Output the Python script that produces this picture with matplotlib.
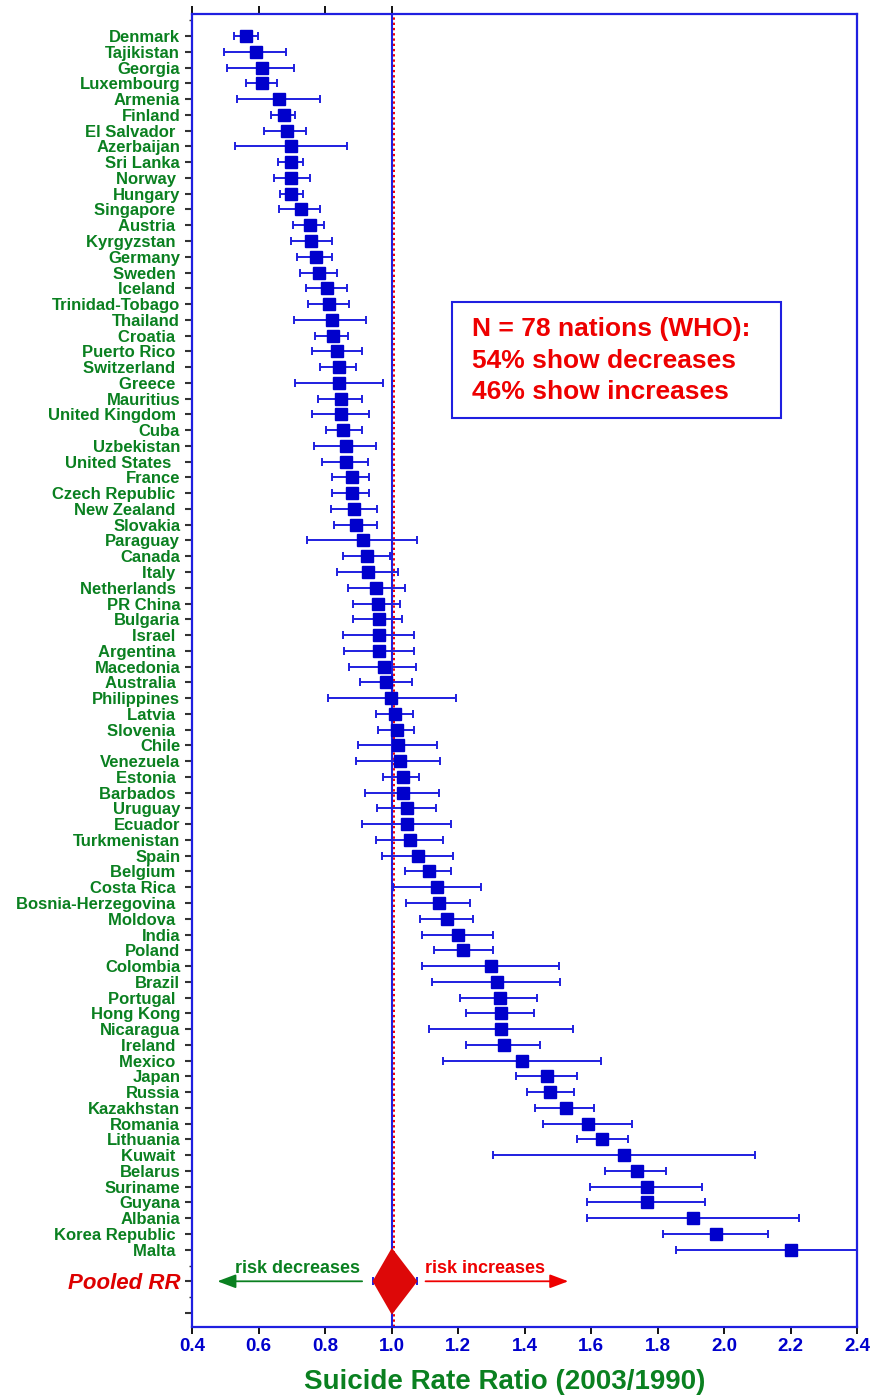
import numpy as np
import matplotlib
matplotlib.use('Agg')
import matplotlib.pyplot as plt
from matplotlib.patches import Polygon, Rectangle, FancyArrowPatch

plt.rcParams['font.family'] = ['Liberation Sans', 'DejaVu Sans']
plt.rcParams['font.weight'] = 'bold'

# Suicide rate ratio 2003/1990 per country, with 95% CI
countries = ['Denmark', 'Tajikistan', 'Georgia', 'Luxembourg', 'Armenia', 'Finland',
             'El Salvador ', 'Azerbaijan', 'Sri Lanka', 'Norway ', 'Hungary', 'Singapore ',
             'Austria ', 'Kyrgyzstan ', 'Germany', 'Sweden ', 'Iceland ', 'Trinidad-Tobago',
             'Thailand', 'Croatia ', 'Puerto Rico ', 'Switzerland ', 'Greece ', 'Mauritius',
             'United Kingdom ', 'Cuba', 'Uzbekistan', 'United States  ', 'France', 'Czech Republic ',
             'New Zealand ', 'Slovakia', 'Paraguay', 'Canada', 'Italy ', 'Netherlands ',
             'PR China', 'Bulgaria', 'Israel ', 'Argentina ', 'Macedonia', 'Australia ',
             'Philippines', 'Latvia ', 'Slovenia ', 'Chile', 'Venezuela', 'Estonia ',
             'Barbados ', 'Uruguay', 'Ecuador', 'Turkmenistan', 'Spain', 'Belgium ',
             'Costa Rica ', 'Bosnia-Herzegovina ', 'Moldova ', 'India', 'Poland', 'Colombia',
             'Brazil', 'Portugal ', 'Hong Kong', 'Nicaragua', 'Ireland ', 'Mexico ',
             'Japan', 'Russia', 'Kazakhstan', 'Romania', 'Lithuania', 'Kuwait ',
             'Belarus', 'Suriname', 'Guyana', 'Albania', 'Korea Republic ', 'Malta ']

rr = [0.563, 0.591, 0.610, 0.610, 0.661, 0.676, 0.685, 0.699, 0.699, 0.699, 0.699, 0.727,
      0.754, 0.759, 0.772, 0.782, 0.805, 0.813, 0.820, 0.823, 0.837, 0.842, 0.842, 0.847,
      0.847, 0.855, 0.862, 0.862, 0.880, 0.880, 0.888, 0.893, 0.915, 0.925, 0.930, 0.953,
      0.958, 0.963, 0.963, 0.963, 0.977, 0.982, 0.997, 1.010, 1.016, 1.021, 1.026, 1.034,
      1.034, 1.046, 1.046, 1.056, 1.079, 1.112, 1.138, 1.144, 1.166, 1.199, 1.216, 1.300,
      1.316, 1.325, 1.328, 1.328, 1.338, 1.393, 1.469, 1.476, 1.524, 1.592, 1.634, 1.699,
      1.738, 1.768, 1.768, 1.907, 1.977, 2.200]

ci_low = [0.525, 0.497, 0.506, 0.562, 0.534, 0.637, 0.618, 0.529, 0.660, 0.647, 0.665, 0.663,
          0.705, 0.697, 0.715, 0.725, 0.743, 0.748, 0.706, 0.770, 0.760, 0.785, 0.710, 0.780,
          0.760, 0.803, 0.767, 0.790, 0.822, 0.822, 0.817, 0.827, 0.747, 0.853, 0.835, 0.868,
          0.885, 0.885, 0.853, 0.858, 0.872, 0.905, 0.810, 0.952, 0.960, 0.900, 0.892, 0.973,
          0.920, 0.955, 0.910, 0.952, 0.970, 1.041, 1.005, 1.045, 1.086, 1.091, 1.129, 1.091,
          1.123, 1.206, 1.224, 1.114, 1.224, 1.154, 1.374, 1.408, 1.433, 1.457, 1.559, 1.305,
          1.642, 1.596, 1.587, 1.587, 1.818, 1.855]

ci_high = [0.597, 0.684, 0.708, 0.655, 0.785, 0.711, 0.743, 0.865, 0.735, 0.754, 0.735, 0.785,
           0.798, 0.822, 0.822, 0.837, 0.865, 0.873, 0.924, 0.870, 0.910, 0.893, 0.975, 0.910,
           0.933, 0.910, 0.952, 0.930, 0.933, 0.933, 0.957, 0.957, 1.076, 0.995, 1.021, 1.041,
           1.026, 1.033, 1.068, 1.068, 1.074, 1.061, 1.193, 1.064, 1.069, 1.137, 1.147, 1.083,
           1.143, 1.133, 1.179, 1.156, 1.184, 1.178, 1.270, 1.235, 1.245, 1.305, 1.305, 1.503,
           1.508, 1.439, 1.428, 1.546, 1.447, 1.630, 1.558, 1.549, 1.609, 1.724, 1.711, 2.092,
           1.826, 1.933, 1.943, 2.226, 2.133, 2.620]

pooled_rr = 1.007
pooled_low = 0.943
pooled_high = 1.078

x_ticks = [0.4, 0.6, 0.8, 1.0, 1.2, 1.4, 1.6, 1.8, 2.0, 2.2, 2.4]

BLUE = '#1f1fe0'
MARK = '#0000cc'
GREEN = '#0a8020'
RED = '#ee0000'

fig = plt.figure(figsize=(8.72, 13.98), dpi=100)
ax = fig.add_axes([192 / 872, 1 - 1327 / 1398, 665 / 872, 1313 / 1398])

n = len(countries)
ypos = np.arange(1, n + 1)
rr_a = np.array(rr)
err = [rr_a - np.array(ci_low), np.array(ci_high) - rr_a]

# reference line (no change) and pooled estimate
ax.axvline(1.0, color=BLUE, lw=1.5, zorder=1)
ax.axvline(pooled_rr, color=RED, lw=1.4, ls=(0, (1.2, 1.5)), zorder=1)

ax.errorbar(rr, ypos, xerr=err, fmt='s', color=MARK, ms=8.4, mec=MARK,
            ecolor=BLUE, elinewidth=1.4, capsize=3, capthick=1.4, zorder=3)

# pooled RR diamond
py = n + 2
diamond = Polygon([(pooled_low, py), (pooled_rr - 0.006, py - 2.12), (pooled_high, py),
                   (pooled_rr - 0.006, py + 2.12)], closed=True, fc='#dd0808', ec='none', zorder=4)
ax.add_patch(diamond)
ax.errorbar([pooled_rr], [py], xerr=[[pooled_rr - pooled_low], [pooled_high - pooled_rr]],
            fmt='none', ecolor=BLUE, elinewidth=0, capsize=3, capthick=1.4, zorder=3)

# direction arrows
ax.add_patch(FancyArrowPatch((0.920, py), (0.468, py), arrowstyle='-|>,head_length=0.8,head_width=0.3',
                             mutation_scale=14, color=GREEN, lw=1.3))
ax.add_patch(FancyArrowPatch((1.094, py), (1.540, py), arrowstyle='-|>,head_length=0.8,head_width=0.3',
                             mutation_scale=14, color=RED, lw=1.3))
ax.text(0.717, py - 0.5, 'risk decreases', color=GREEN, fontsize=13, ha='center', va='baseline')
ax.text(1.100, py - 0.5, 'risk increases', color=RED, fontsize=13, ha='left', va='baseline')

# summary box
ax.add_patch(Rectangle((0.391, 0.6923), 0.495, 0.0884, transform=ax.transAxes,
                       fc='white', ec=BLUE, lw=1.5, zorder=5))
summary = ['N = 78 nations (WHO):', '54% show decreases', '46% show increases']
for i, line in enumerate(summary):
    ax.text(0.421, 0.755 - i * 0.0243, line, transform=ax.transAxes, color=RED,
            fontsize=19, ha='left', va='baseline', zorder=6)

ax.set_xlim(0.4, 2.4)
ax.set_ylim(82.9, -0.4)

ax.set_xticks(x_ticks)
ax.set_xticklabels([f'{t:.1f}' for t in x_ticks], color=MARK, fontsize=13.5)
ax.tick_params(axis='x', direction='out', length=5, width=1.3, color='black', pad=3)

ax.set_yticks(list(ypos) + [py, py + 2])
ax.set_yticklabels(countries + ['Pooled RR', ''], fontsize=12, color=GREEN)
ax.set_yticks([0, py - 1, py + 1], minor=True)
ax.tick_params(axis='y', which='major', direction='out', length=5, width=1.5, color='#333333', pad=3.5)
ax.tick_params(axis='y', which='minor', direction='out', length=2.5, width=1.0, color='#333333')
pl = ax.get_yticklabels()[n]
pl.set_color('#dd0000')
pl.set_fontsize(16)
pl.set_fontstyle('italic')

for s in ax.spines.values():
    s.set_color(BLUE)
    s.set_linewidth(1.6)

top = ax.secondary_xaxis('top')
top.set_xticks([0.4, 0.6, 0.8, 1.0])
top.set_xticklabels([])
top.tick_params(direction='out', length=6, width=1.3, color='black')
top.spines['top'].set_visible(False)

fig.text(505 / 872, 1 - 1382 / 1398, 'Suicide Rate Ratio (2003/1990)', color=GREEN,
         fontsize=20, ha='center', va='center')

fig.savefig('out.png', dpi=100)
